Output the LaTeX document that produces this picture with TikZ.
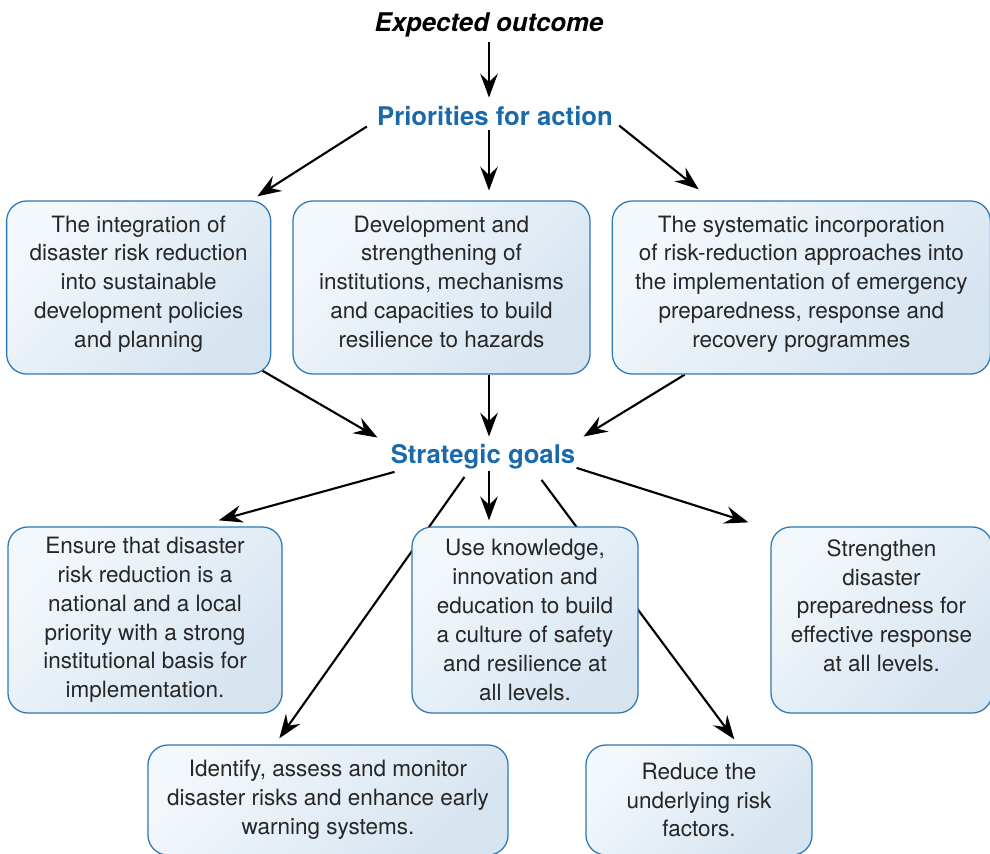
\documentclass[tikz,border=0pt]{standalone}
\usepackage{fontspec}
\setmainfont{TeX Gyre Heros}
\usepackage{tikz}
\usetikzlibrary{positioning,arrows.meta,backgrounds,calc}
\definecolor{unblue}{HTML}{1A6AAB}
\definecolor{boxline}{HTML}{2E78B5}
\definecolor{boxlight}{HTML}{F3F8FC}
\definecolor{boxdark}{HTML}{D6E4F0}
\tikzstyle{box1} = [rectangle, draw=boxline, line width=0.9pt, %
   top color=boxlight, bottom color=boxdark, shading angle=45, %
   text=black!85, align=center, rounded corners=0.5cm, %
   font=\fontsize{16}{20.5}\selectfont]
\tikzstyle{heading} = [inner sep=0pt, anchor=base, text=unblue, %
   font=\fontsize{18.3}{22}\selectfont\bfseries]
\tikzstyle{line} = [draw, line width=1.5pt, %
   -{Stealth[length=17pt,width=12.5pt,inset=6pt]}]

\begin{document}
\begin{tikzpicture}[x=0.025cm, y=-0.025cm]
   \useasboundingbox (0,0) rectangle (990,853);

   % Place nodes
   \node[heading, text=black, font=\fontsize{18.3}{22}\selectfont\bfseries\itshape](expected) at (489,32){Expected outcome};
   \node[heading](priorities) at (495,126){Priorities for action};

   % PRIORITIES %%%%%%%%%%%%%%%%%%%%%%%%%%%%%%%%%%%%%%%%%%%%%%%%%%%%
   \node[box1, minimum width=7.425cm, minimum height=4.325cm](prio2) at (441.5,287.5){%
      Development and\\ strengthening of\\ institutions, mechanisms\\ and capacities to build\\ resilience to hazards\\[-12pt]\mbox{}};
   \node[box1, left=0.525cm of prio2, minimum width=6.6cm, minimum height=4.325cm](prio1){%
      The integration of\\ disaster risk reduction\\ into sustainable\\ development policies\\ and planning\\[-12pt]\mbox{}};
   \node[box1, right=0.525cm of prio2, minimum width=9.45cm, minimum height=4.325cm](prio3){%
      The systematic incorporation\\ of risk-reduction approaches into\\ the implementation of emergency\\ preparedness, response and\\ recovery programmes\\[-12pt]\mbox{}};

   \node[heading](strategic) at (483,463){Strategic goals};

   % GOALS %%%%%%%%%%%%%%%%%%%%%%%%%%%%%%%%%%%%%%%%%%%%%%%%%%%%%%%%%
   \node[box1, minimum width=6.85cm, minimum height=4.65cm](goal1) at (145,620){%
      Ensure that disaster\\ risk reduction is a\\ national and a local\\ priority with a strong\\ institutional basis for\\ implementation.};
   \node[box1, minimum width=5.65cm, minimum height=4.65cm](goal3) at (525,620){%
      Use knowledge,\\ innovation and\\ education to build\\ a culture of safety\\ and resilience at\\ all levels.};
   \node[box1, minimum width=5.525cm, minimum height=4.65cm](goal5) at (881.5,620){%
      Strengthen\\ disaster\\ preparedness for\\ effective response\\ at all levels.\\ \mbox{}};
   \node[box1, minimum width=9cm, minimum height=2.75cm](goal2) at (328,800){%
      Identify, assess and monitor\\ disaster risks and enhance early\\ warning systems.};
   \node[box1, minimum width=5.65cm, minimum height=2.75cm](goal4) at (699,800){%
      Reduce the\\ underlying risk\\ factors.};

   % Draw edges
   \begin{scope}[on background layer]
      \path [line, shorten <=0.115cm, shorten >=0.225cm] (expected.south) -- (expected.south |- priorities.north);
      \path [line] ([shift={(-10,0)}]priorities.south west) -- ([shift={(-14,-4)}]prio1.north east);
      \path [line, shorten <=0.09cm, shorten >=0.245cm] (priorities.south -| expected) -- (prio2.north -| expected);
      \path [line] ([shift={(6,-1)}]priorities.south east) -- ([shift={(87,-11)}]prio3.north west);
      \path [line] ([shift={(-9,-4)}]prio1.south east) -- ([shift={(-13,-6)}]strategic.north west);
      \path [line, shorten >=0.175cm] (prio2.south -| expected) -- (strategic.north -| expected);
      \path [line] ([shift={(73,0)}]prio3.south west) -- ([shift={(8,-7)}]strategic.north east);
      \path [line] ([shift={(4,3)}]strategic.south west) -- ([shift={(-64,-6)}]goal1.north east);
      \path [line, shorten <=0.065cm, shorten >=0.15cm] (strategic.south -| expected) -- (goal3.north -| expected);
      \path [line] ([shift={(74,8)}]strategic.south west) -- ([shift={(132,-6)}]goal2.north west);
      \path [line] ([shift={(-34,11)}]strategic.south east) -- ([shift={(149,-5)}]goal4.north west);
      \path [line] ([shift={(1,-1)}]strategic.south east) -- ([shift={(-22,-4)}]goal5.north west);
   \end{scope}
\end{tikzpicture}
\end{document}
